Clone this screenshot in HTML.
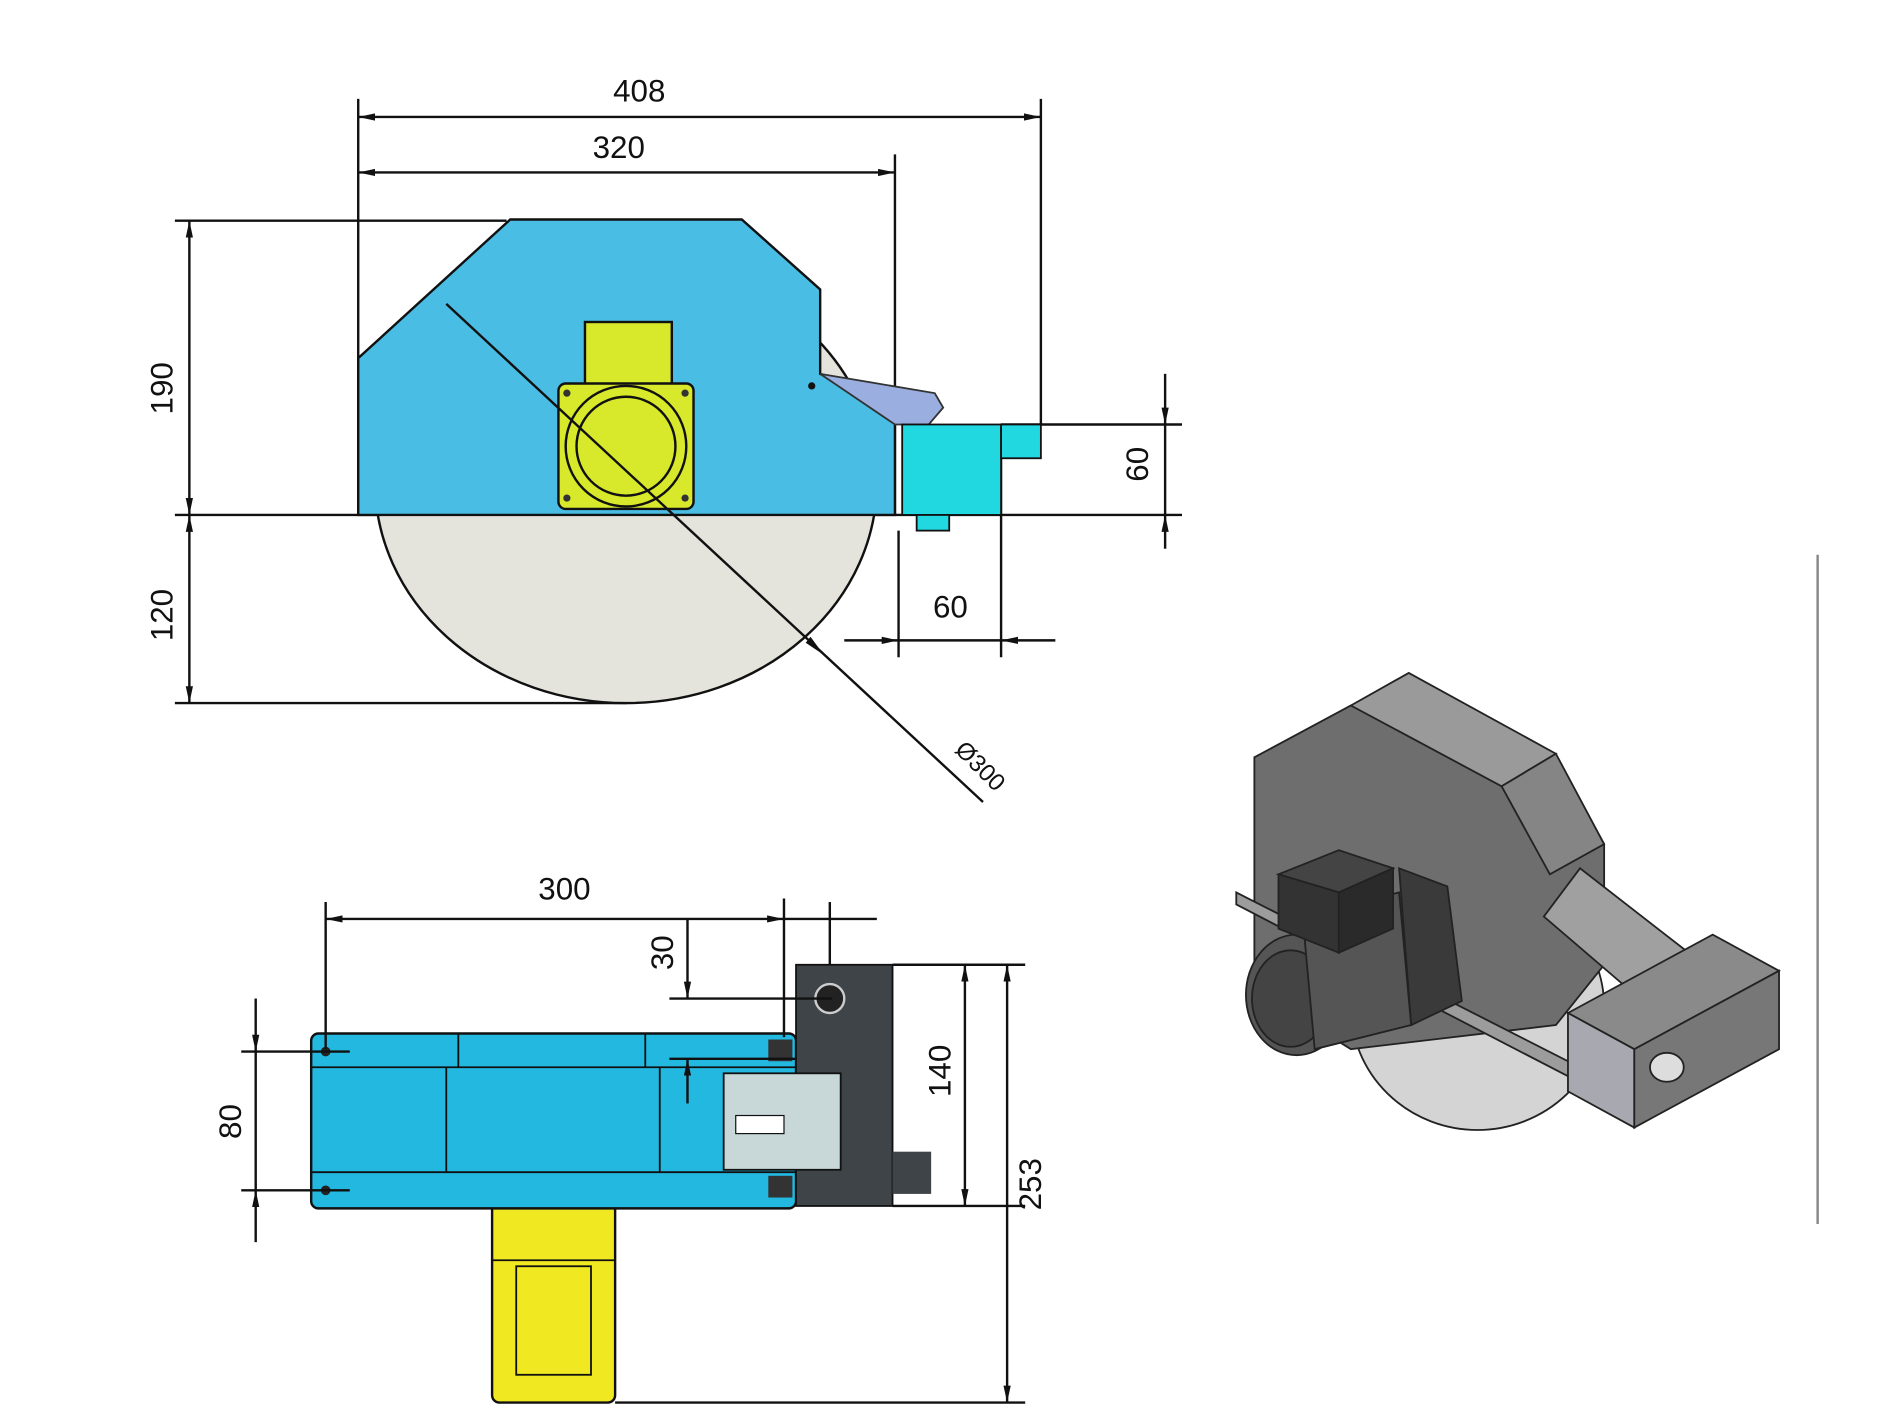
<!DOCTYPE html>
<html><head><meta charset="utf-8"><style>html,body{margin:0;padding:0;background:#fff}svg{display:block}</style></head><body>
<svg width="1890" height="1417" viewBox="0 0 1567 1175" preserveAspectRatio="none" xmlns="http://www.w3.org/2000/svg" font-family="Liberation Sans, sans-serif">
<defs><marker id="a" markerWidth="14" markerHeight="8" refX="14" refY="4" orient="auto-start-reverse" markerUnits="userSpaceOnUse"><path d="M0,1 L14,4 L0,7 Z" fill="#111"/></marker></defs>
<g stroke="#111" stroke-width="2" fill="none">
<line x1="297" y1="82" x2="297" y2="300"/><line x1="742" y1="128" x2="742" y2="427"/><line x1="863" y1="82" x2="863" y2="352"/>
<line x1="297" y1="97" x2="863" y2="97" marker-start="url(#a)" marker-end="url(#a)"/>
<line x1="297" y1="143" x2="742" y2="143" marker-start="url(#a)" marker-end="url(#a)"/>
<line x1="145" y1="183" x2="420" y2="183"/><line x1="145" y1="427" x2="980" y2="427"/><line x1="145" y1="583" x2="520" y2="583"/>
<line x1="157" y1="183" x2="157" y2="427" marker-start="url(#a)" marker-end="url(#a)"/>
<line x1="157" y1="427" x2="157" y2="583" marker-start="url(#a)" marker-end="url(#a)"/>
<line x1="830" y1="352" x2="980" y2="352"/>
<line x1="966" y1="310" x2="966" y2="352" marker-end="url(#a)"/><line x1="966" y1="455" x2="966" y2="427" marker-end="url(#a)"/><line x1="966" y1="352" x2="966" y2="427"/>
<line x1="745" y1="440" x2="745" y2="545"/><line x1="830" y1="380" x2="830" y2="545"/>
<line x1="700" y1="531" x2="745" y2="531" marker-end="url(#a)"/><line x1="875" y1="531" x2="830" y2="531" marker-end="url(#a)"/><line x1="745" y1="531" x2="830" y2="531"/>
</g>
<ellipse cx="519" cy="400" rx="208" ry="183" fill="#e4e4dc" stroke="#111" stroke-width="2"/>
<polygon points="297,297 423,182 615,182 680,240 680,310 742,330 742,427 297,427" fill="#4abde4" stroke="#111" stroke-width="2"/>
<polygon points="680,310 775,326 782,338 770,352 742,352" fill="#9aaee0" stroke="#333" stroke-width="1.5"/>
<rect x="748" y="352" width="82" height="75" fill="#22d8e0" stroke="#111" stroke-width="1.5"/>
<rect x="830" y="352" width="33" height="28" fill="#22d8e0" stroke="#111" stroke-width="1.5"/>
<rect x="760" y="427" width="27" height="13" fill="#22d8e0" stroke="#111" stroke-width="1.5"/>
<circle cx="673" cy="320" r="3" fill="#111"/>
<rect x="485" y="267" width="72" height="53" fill="#d8e82a" stroke="#111" stroke-width="2"/>
<rect x="463" y="318" width="112" height="104" rx="6" fill="#d8e82a" stroke="#111" stroke-width="2"/>
<circle cx="519" cy="370" r="50" fill="#d8e82a" stroke="#111" stroke-width="2"/>
<circle cx="519" cy="370" r="41" fill="none" stroke="#111" stroke-width="2"/>
<g fill="#333"><circle cx="470" cy="326" r="3"/><circle cx="568" cy="326" r="3"/><circle cx="470" cy="413" r="3"/><circle cx="568" cy="413" r="3"/></g>
<line x1="370" y1="252" x2="815" y2="665" stroke="#111" stroke-width="2"/>
<path d="M683,543 L672,528 L668,533 Z" fill="#111"/>
<g font-size="26" fill="#111" text-anchor="middle">
<text x="530" y="84">408</text><text x="513" y="131">320</text>
<text x="788" y="512">60</text>
<text transform="translate(143,322) rotate(-90)">190</text>
<text transform="translate(143,510) rotate(-90)">120</text>
<text transform="translate(952,385) rotate(-90)">60</text>
<text transform="translate(808,640) rotate(45)" font-size="20">Ø300</text>
<text x="468" y="746">300</text>
<text transform="translate(558,790) rotate(-90)">30</text>
<text transform="translate(788,888) rotate(-90)">140</text>
<text transform="translate(863,982) rotate(-90)">253</text>
<text transform="translate(200,930) rotate(-90)">80</text>
</g>
<rect x="408" y="970" width="102" height="193" rx="6" fill="#f0e820" stroke="#111" stroke-width="2"/>
<rect x="428" y="1050" width="62" height="90" fill="none" stroke="#111" stroke-width="1.5"/>
<line x1="408" y1="1045" x2="510" y2="1045" stroke="#111" stroke-width="1.5"/>
<rect x="258" y="857" width="402" height="145" rx="6" fill="#22b8e0" stroke="#111" stroke-width="2"/>
<g stroke="#111" stroke-width="1.5" fill="none">
<line x1="258" y1="885" x2="660" y2="885"/><line x1="370" y1="885" x2="370" y2="972"/><line x1="547" y1="885" x2="547" y2="972"/>
<line x1="258" y1="972" x2="660" y2="972"/><line x1="380" y1="857" x2="380" y2="885"/><line x1="535" y1="857" x2="535" y2="885"/>
</g>
<rect x="660" y="800" width="80" height="200" fill="#3e4448" stroke="#111" stroke-width="1.5"/>
<rect x="740" y="955" width="32" height="35" fill="#3e4448"/>
<rect x="600" y="890" width="97" height="80" fill="#c8d8d8" stroke="#111" stroke-width="1.5"/>
<rect x="610" y="925" width="40" height="15" fill="#fff" stroke="#111"/>
<circle cx="688" cy="828" r="12" fill="#222" stroke="#ccc" stroke-width="2"/>
<rect x="637" y="862" width="20" height="18" fill="#333"/><rect x="637" y="975" width="20" height="18" fill="#333"/>
<circle cx="270" cy="872" r="4" fill="#222"/><circle cx="270" cy="987" r="4" fill="#222"/>
<g stroke="#111" stroke-width="2" fill="none">
<line x1="270" y1="748" x2="270" y2="870"/><line x1="650" y1="745" x2="650" y2="860"/><line x1="688" y1="748" x2="688" y2="800"/>
<line x1="270" y1="762" x2="650" y2="762" marker-start="url(#a)" marker-end="url(#a)"/><line x1="650" y1="762" x2="727" y2="762"/>
<line x1="570" y1="762" x2="570" y2="828" marker-end="url(#a)"/><line x1="570" y1="915" x2="570" y2="878" marker-end="url(#a)"/>
<line x1="555" y1="828" x2="690" y2="828"/><line x1="555" y1="878" x2="660" y2="878"/>
<line x1="740" y1="800" x2="850" y2="800"/><line x1="740" y1="1000" x2="850" y2="1000"/><line x1="510" y1="1163" x2="850" y2="1163"/>
<line x1="800" y1="800" x2="800" y2="1000" marker-start="url(#a)" marker-end="url(#a)"/>
<line x1="835" y1="800" x2="835" y2="1163" marker-start="url(#a)" marker-end="url(#a)"/>
<line x1="200" y1="872" x2="290" y2="872"/><line x1="200" y1="987" x2="290" y2="987"/>
<line x1="212" y1="828" x2="212" y2="872" marker-end="url(#a)"/><line x1="212" y1="1030" x2="212" y2="987" marker-end="url(#a)"/><line x1="212" y1="872" x2="212" y2="987"/>
</g>
<line x1="1507" y1="460" x2="1507" y2="1015" stroke="#888" stroke-width="2"/>
<g stroke="#222" stroke-width="1.5">
<ellipse cx="1225" cy="835" rx="105" ry="102" fill="#d4d4d4"/>
<polygon points="1040,628 1120,585 1290,628 1330,700 1330,800 1290,850 1120,870 1040,820" fill="#6e6e6e"/>
<polygon points="1120,585 1168,558 1290,625 1245,652" fill="#9a9a9a"/>
<polygon points="1245,652 1290,625 1330,700 1285,725" fill="#858585"/>
<polygon points="1025,740 1300,880 1305,895 1025,750" fill="#9c9c9c"/>
<polygon points="1160,720 1200,735 1212,830 1170,850" fill="#3a3a3a"/>
<ellipse cx="1075" cy="825" rx="42" ry="50" fill="#555"/>
<ellipse cx="1070" cy="828" rx="32" ry="40" fill="#444"/>
<polygon points="1080,760 1160,740 1170,850 1090,870" fill="#555"/>
<polygon points="1060,725 1110,705 1155,720 1110,740" fill="#444"/>
<polygon points="1060,725 1110,740 1110,790 1060,770" fill="#333"/>
<polygon points="1110,740 1155,720 1155,770 1110,790" fill="#2a2a2a"/>
<polygon points="1280,760 1310,720 1400,790 1350,820" fill="#a0a0a0"/>
<polygon points="1300,840 1420,775 1475,805 1355,870" fill="#8a8a8a"/>
<polygon points="1300,840 1355,870 1355,935 1300,905" fill="#a8a8b0"/>
<polygon points="1355,870 1475,805 1475,870 1355,935" fill="#777"/>
<ellipse cx="1382" cy="885" rx="14" ry="12" fill="#ddd"/>
</g>
</svg>
</body></html>
